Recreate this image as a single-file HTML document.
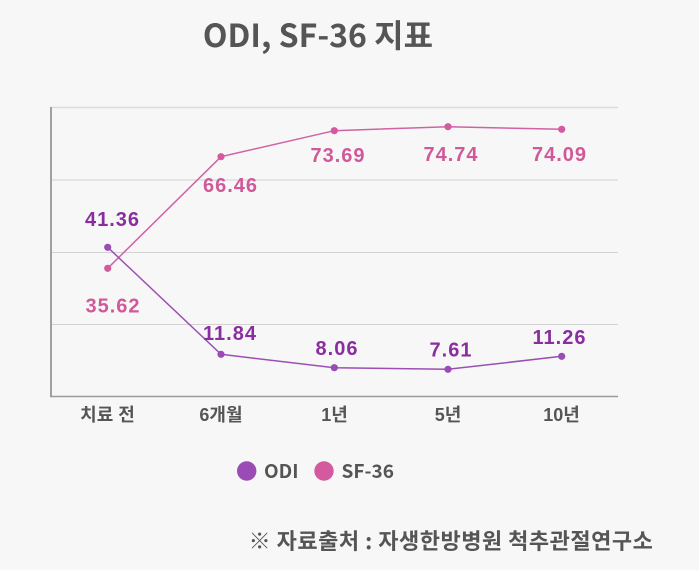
<!DOCTYPE html>
<html><head><meta charset="utf-8"><style>
html,body{margin:0;padding:0;background:#f7f7f7;}
svg{display:block;}
text{font-family:"Liberation Sans","Noto Sans CJK KR",sans-serif;font-weight:bold;}
</style></head><body>
<svg width="699" height="570" viewBox="0 0 699 570" xmlns="http://www.w3.org/2000/svg">
<rect width="699" height="570" fill="#f7f7f7"/>
<text x="318" y="47" text-anchor="middle" font-size="32" fill="#555" style="font-family:'Noto Sans CJK KR',sans-serif">ODI, SF-36 지표</text>
<!-- grid -->
<line x1="51" y1="107.5" x2="618" y2="107.5" stroke="#dcdcdc" stroke-width="1.5"/>
<line x1="51" y1="180" x2="618" y2="180" stroke="#d2d2d2" stroke-width="1"/>
<line x1="51" y1="252.5" x2="618" y2="252.5" stroke="#d2d2d2" stroke-width="1"/>
<line x1="51" y1="324.5" x2="618" y2="324.5" stroke="#d2d2d2" stroke-width="1"/>
<line x1="51" y1="107" x2="51" y2="397" stroke="#a0a0a0" stroke-width="2"/>
<line x1="50" y1="396.5" x2="618" y2="396.5" stroke="#9a9a9a" stroke-width="1.5"/>
<!-- SF-36 -->
<polyline points="107.7,268.3 221,156.7 334.3,130.7 448,126.7 561.7,129.3" fill="none" stroke="#d062a3" stroke-width="1.5"/>
<g fill="#d45a9f">
<circle cx="107.7" cy="268.3" r="3.6"/><circle cx="221" cy="156.7" r="3.6"/><circle cx="334.3" cy="130.7" r="3.6"/><circle cx="448" cy="126.7" r="3.6"/><circle cx="561.7" cy="129.3" r="3.6"/>
</g>
<!-- ODI -->
<polyline points="107.7,247.3 221,354.3 334.3,367.7 448,369.3 561.7,356.3" fill="none" stroke="#9b4fb5" stroke-width="1.5"/>
<g fill="#9a4bb5">
<circle cx="107.7" cy="247.3" r="3.6"/><circle cx="221" cy="354.3" r="3.6"/><circle cx="334.3" cy="367.7" r="3.6"/><circle cx="448" cy="369.3" r="3.6"/><circle cx="561.7" cy="356.3" r="3.6"/>
</g>
<!-- labels -->
<g font-size="20" text-anchor="middle" fill="#d0599a" letter-spacing="1" style="font-family:'Noto Sans CJK KR',sans-serif">
<text x="113" y="312.5">35.62</text>
<text x="230.5" y="192">66.46</text>
<text x="338" y="162">73.69</text>
<text x="451" y="161">74.74</text>
<text x="559.5" y="161">74.09</text>
</g>
<g font-size="20" text-anchor="middle" fill="#8a2e9f" letter-spacing="1" style="font-family:'Noto Sans CJK KR',sans-serif">
<text x="112.5" y="226">41.36</text>
<text x="230" y="340">11.84</text>
<text x="337" y="355">8.06</text>
<text x="451" y="356.5">7.61</text>
<text x="559.5" y="344">11.26</text>
</g>
<!-- x labels -->
<g font-size="18" text-anchor="middle" fill="#555" style="font-family:'Noto Sans CJK KR',sans-serif">
<text x="107.5" y="421">치료 전</text>
<text x="221" y="421">6개월</text>
<text x="334.5" y="421">1년</text>
<text x="448" y="421">5년</text>
<text x="561.5" y="421">10년</text>
</g>
<!-- legend -->
<circle cx="246.7" cy="471" r="9.7" fill="#9a4bb5"/>
<text x="264" y="478" font-size="19" fill="#555" style="font-family:'Noto Sans CJK KR',sans-serif">ODI</text>
<circle cx="324" cy="471" r="9.7" fill="#d45a9f"/>
<text x="341.5" y="478" font-size="19" fill="#555" style="font-family:'Noto Sans CJK KR',sans-serif">SF-36</text>
<!-- footer -->
<text x="451" y="549" text-anchor="middle" font-size="22" fill="#555" letter-spacing="0.5" style="font-family:'Noto Sans CJK KR',sans-serif">※ 자료출처 : 자생한방병원 척추관절연구소</text>
</svg>
</body></html>
